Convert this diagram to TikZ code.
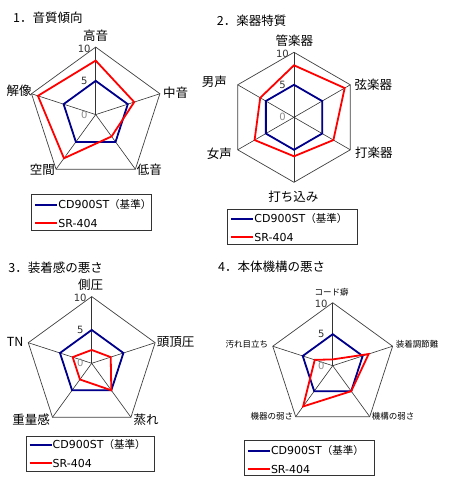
\documentclass[tikz,border=0pt]{standalone}
\usepackage{fontspec}
\setmainfont{Noto Sans CJK JP}
\newfontfamily\latinf{DejaVu Sans}
\usetikzlibrary{calc}
\definecolor{navyline}{RGB}{0,0,140}
\definecolor{redcol}{RGB}{255,0,0}
\tikzset{
  gridline/.style={draw=black!75,line width=0.7pt},
  spoke/.style={draw=black!80,line width=0.6pt},
  blueline/.style={draw=navyline,line width=1.8pt,line join=miter},
  redlinestyle/.style={draw=redcol,line width=1.8pt,line join=miter},
  legblue/.style={draw=navyline,line width=2pt},
  legred/.style={draw=redcol,line width=2pt},
  lbl/.style={inner sep=0pt,font=\fontsize{12.5}{12.5}\selectfont},
  smalllbl/.style={inner sep=0pt,font=\fontsize{8.5}{8.5}\selectfont},
  numlbl/.style={inner sep=0pt,font=\latinf\fontsize{10}{10}\selectfont,text=black!80},
  zerolbl/.style={inner sep=0pt,font=\latinf\fontsize{10}{10}\selectfont,text=black!45},
  ttl/.style={inner sep=0pt,anchor=west,font=\fontsize{12.5}{12.5}\selectfont},
  legbox/.style={draw=black!80,line width=0.8pt},
  legtxt/.style={inner sep=0pt,anchor=west,font=\fontsize{10.5}{10.5}\selectfont}
}
\newcommand\radar[6]{%
  \foreach \i in {1,...,#5}{%
    \pgfmathsetmacro\ang{90-360*(\i-1)/#5}
    \coordinate (#1o\i) at ({#2+#4*cos(\ang)},{#3-#4*sin(\ang)});
    \coordinate (#1b\i) at ({#2+0.5*#4*cos(\ang)},{#3-0.5*#4*sin(\ang)});
  }
  \coordinate (#1c) at (#2,#3);
  \foreach \v [count=\i] in {#6}{%
    \pgfmathsetmacro\ang{90-360*(\i-1)/#5}
    \coordinate (#1r\i) at ({#2+\v/10*#4*cos(\ang)},{#3-\v/10*#4*sin(\ang)});
  }
  \foreach \i in {1,...,#5} \draw[spoke] (#1c) -- (#1o\i);
  \draw[gridline] (#1o1) \foreach \i in {2,...,#5}{-- (#1o\i)} -- cycle;
  \draw[gridline] (#1b1) \foreach \i in {2,...,#5}{-- (#1b\i)} -- cycle;
  \draw[blueline] (#1b1) \foreach \i in {2,...,#5}{-- (#1b\i)} -- cycle;
  \draw[redlinestyle] (#1r1) \foreach \i in {2,...,#5}{-- (#1r\i)} -- cycle;
  \node[numlbl,anchor=east] (#1n10) at ({#2-5},{#3-#4+1.5}) {10};
  \node[numlbl,anchor=east] (#1n5) at ({#2-8},{#3-0.5*#4}) {5};
  \node[zerolbl,anchor=east] (#1n0) at ({#2-8},{#3}) {0};
}
% prefix, x1, y1, x2, y2, blue-row y, red-row y
\newcommand\legendbox[7]{%
  \draw[legbox] (#2,#3) rectangle (#4,#5);
  \coordinate (#1ba) at ({#2+3.5},#6);
  \coordinate (#1bb) at ({#2+25.5},#6);
  \coordinate (#1ra) at ({#2+3.5},#7);
  \coordinate (#1rb) at ({#2+25.5},#7);
  \draw[legblue] (#1ba) -- (#1bb);
  \draw[legred] (#1ra) -- (#1rb);
  \node[legtxt] (#1bt) at ($(#1bb)+(1,0)$) {{\latinf\fontsize{11}{11}\selectfont CD900ST}（基準）};
  \node[legtxt] (#1rt) at ($(#1rb)+(1,0)$) {{\latinf\fontsize{11}{11}\selectfont SR-404}};
}
\begin{document}
\begin{tikzpicture}[x=1pt,y=-1pt]
\useasboundingbox[fill=white] (0,0) rectangle (450,481);
% ---------- chart 1
\node[ttl] (t1) at (13,18) {1．音質傾向};
\radar{A}{95.7}{114.6}{67.5}{5}{8,6,4,8,9}
\node[lbl,anchor=center] (A1) at (95.7,35.7) {高音};
\node[lbl,anchor=west] (A2) at (163,92.7) {中音};
\node[lbl,anchor=west] (A3) at (136.7,169.5) {低音};
\node[lbl,anchor=east] (A4) at (55,170) {空間};
\node[lbl,anchor=east] (A5) at (31.7,90.7) {解像};
\legendbox{LA}{31.7}{194.3}{151.7}{230}{205}{223}
% ---------- chart 2
\node[ttl] (t2) at (216.7,20.7) {2．楽器特質};
\radar{B}{294}{117.3}{65}{6}{8,9,7,6,7,6}
\node[lbl,anchor=center] (B1) at (294.3,40.7) {管楽器};
\node[lbl,anchor=west] (B2) at (354.3,85) {弦楽器};
\node[lbl,anchor=west] (B3) at (355,152.7) {打楽器};
\node[lbl,anchor=center] (B4) at (293.3,196.7) {打ち込み};
\node[lbl,anchor=east] (B5) at (232,154) {女声};
\node[lbl,anchor=east] (B6) at (227,82) {男声};
\legendbox{LB}{227.7}{209.3}{357.3}{244.3}{219}{237}
% ---------- chart 3
\node[ttl] (t3) at (8.3,267.3) {3．装着感の悪さ};
\radar{C}{91.7}{363.3}{66.7}{5}{2,3,5,3,3}
\node[lbl,anchor=center] (C1) at (90.7,284.3) {側圧};
\node[lbl,anchor=west] (C2) at (156.7,341.7) {頭頂圧};
\node[lbl,anchor=west] (C3) at (133.3,419.3) {蒸れ};
\node[lbl,anchor=east] (C4) at (50,419.3) {重量感};
\node[lbl,anchor=east] (C5) at (23.5,341.7) {TN};
\legendbox{LC}{26}{436}{154.3}{471.7}{445}{463}
% ---------- chart 4
\node[ttl] (t4) at (218,266.7) {4．本体機構の悪さ};
\radar{D}{332.7}{365.7}{63}{5}{1,6,5,8,3}
\node[smalllbl,anchor=center] (D1) at (331.7,292.3) {コード癖};
\node[smalllbl,anchor=west] (D2) at (395.7,344) {装着調節難};
\node[smalllbl,anchor=west] (D3) at (371.7,416.7) {機構の弱さ};
\node[smalllbl,anchor=east] (D4) at (293.3,416.7) {機器の弱さ};
\node[smalllbl,anchor=east] (D5) at (268.3,344.3) {汚れ目立ち};
\legendbox{LD}{244.3}{440}{374}{475.7}{451}{469}
\end{tikzpicture}
\end{document}
